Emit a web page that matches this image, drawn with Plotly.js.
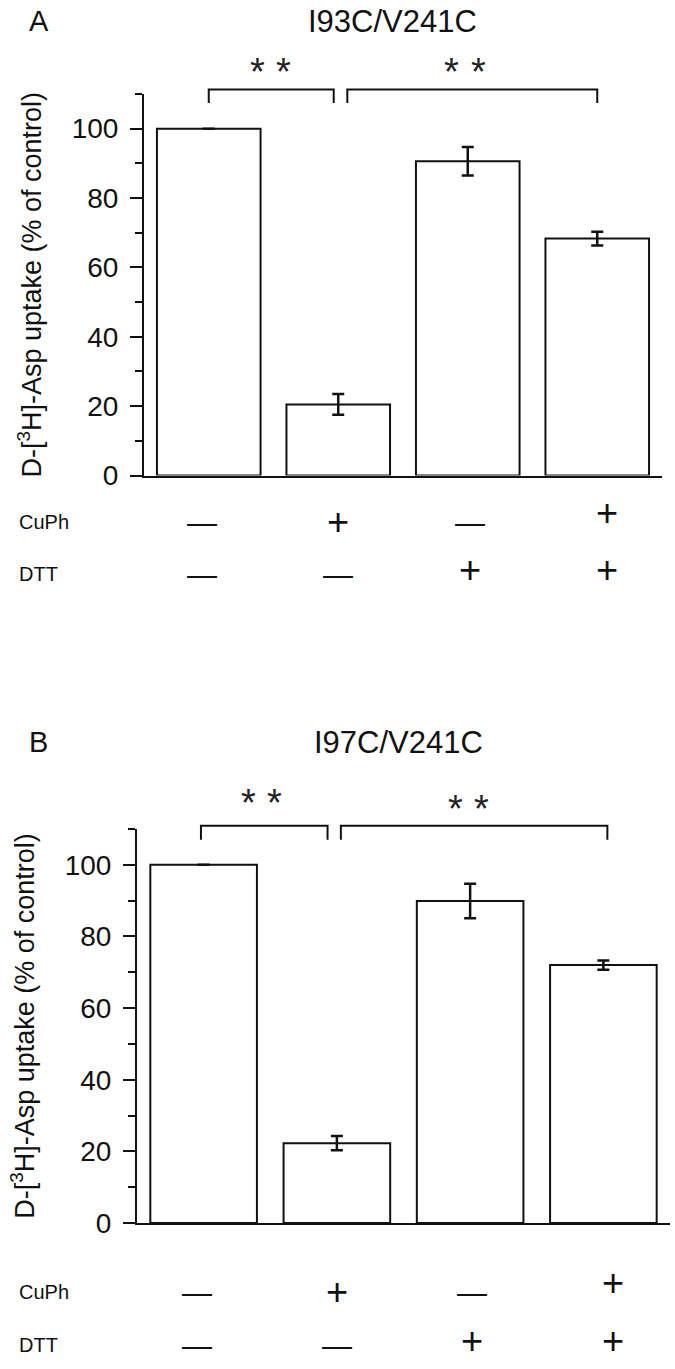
<!DOCTYPE html>
<html>
<head>
<meta charset="utf-8">
<script src="https://cdn.plot.ly/plotly-3.0.1.min.js"></script>
<style>html,body{margin:0;padding:0;background:#fff;}#chart{width:675px;height:1369px;}</style>
</head>
<body>
<div id="chart"></div>
<script>
// ---- data ----
const categories = ['c1', 'c2', 'c3', 'c4'];
const titleA = 'I93C/V241C';
const titleB = 'I97C/V241C';
const valuesA = [100, 20.5, 90.6, 68.3];
const errorsA = [null, 3.0, 4.1, 2.0];
const valuesB = [100, 22.3, 89.9, 72.0];
const errorsB = [null, 2.0, 4.8, 1.3];
const cuphRow = ['\u2014', '+', '\u2014', '+'];
const dttRow = ['\u2014', '\u2014', '+', '+'];
const rowLabels = ['CuPh', 'DTT'];
const yTicks = [0, 20, 40, 60, 80, 100];
const yTitle = 'D-[<sup>3</sup>H]-Asp uptake (% of control)';
const sigMark = '*';

// ---- layout helpers ----
const W = 675, H = 1369;
const FONT = 'Liberation Sans, Arial, Helvetica, sans-serif';
const px = x => x / W;
const py = y => 1 - y / H;
const xIdx = categories.map((c, i) => i);

function barTrace(vals, errs, xa, ya) {
  return {
    type: 'bar', x: xIdx, y: vals, xaxis: xa, yaxis: ya, width: 0.8,
    marker: {color: '#ffffff', line: {color: '#111', width: 2}},
    error_y: {type: 'data', array: errs, visible: true, color: '#111', thickness: 2.5, width: 6},
    showlegend: false, hoverinfo: 'skip'
  };
}

function yAxis(domain, anchor) {
  return {
    domain: domain, anchor: anchor, range: [0, 110], fixedrange: true,
    showline: true, linecolor: '#111', linewidth: 2, mirror: false,
    showgrid: false, zeroline: false,
    tickmode: 'array', tickvals: yTicks, ticktext: yTicks.map(String),
    ticks: 'outside', ticklen: 12, tickwidth: 2, tickcolor: '#111',
    minor: {dtick: 10, tick0: 0, ticks: 'outside', ticklen: 7, tickwidth: 2, tickcolor: '#111', showgrid: false},
    tickfont: {family: FONT, size: 28, color: '#111'},
    ticklabelstandoff: 6,
    title: {text: yTitle, font: {family: FONT, size: 27, color: '#111'}, standoff: 22}
  };
}

function xAxis(domain, anchor) {
  return {
    domain: domain, anchor: anchor, range: [-0.5, 3.5], fixedrange: true,
    showline: true, linecolor: '#111', linewidth: 2,
    showgrid: false, zeroline: false, showticklabels: false, ticks: ''
  };
}

const annotations = [];
const shapes = [];

function addPanel(opts) {
  const {xa, ya, letter, title, titleY, letterX, bracketTop, bracketDrop, brackets, stars, rowY, symXShift} = opts;
  annotations.push({xref: 'paper', yref: 'paper', x: px(letterX), y: py(titleY), text: letter,
    showarrow: false, xanchor: 'center', yanchor: 'middle', font: {family: FONT, size: 29, color: '#111'}});
  annotations.push({xref: 'paper', yref: 'paper', x: px(opts.titleX), y: py(titleY), text: title,
    showarrow: false, xanchor: 'center', yanchor: 'middle', font: {family: FONT, size: 31, color: '#111'}});
  // significance brackets (domain coords)
  const xd = v => (v + 0.5) / 4;
  const yd = v => v / 110;
  brackets.forEach(b => {
    shapes.push({type: 'path', xref: xa + ' domain', yref: ya + ' domain',
      path: 'M ' + xd(b[0]) + ' ' + yd(bracketDrop) + ' L ' + xd(b[0]) + ' ' + yd(bracketTop) +
            ' L ' + xd(b[1]) + ' ' + yd(bracketTop) + ' L ' + xd(b[1]) + ' ' + yd(bracketDrop),
      line: {color: '#111', width: 2}});
  });
  stars.forEach(s => {
    annotations.push({xref: 'paper', yref: 'paper', x: px(s[0]), y: py(s[1]), text: sigMark,
      showarrow: false, xanchor: 'center', yanchor: 'middle', font: {family: FONT, size: 38, color: '#222'}});
  });
  // condition rows
  [cuphRow, dttRow].forEach((row, r) => {
    annotations.push({xref: 'paper', yref: 'paper', x: px(17), y: py(rowY[r]), text: rowLabels[r],
      showarrow: false, xanchor: 'left', yanchor: 'middle', font: {family: FONT, size: 20, color: '#111'}});
    row.forEach((sym, i) => {
      const isPlus = sym === '+';
      annotations.push({xref: xa, yref: 'paper', x: i, y: py(rowY[r]), text: sym,
        xshift: symXShift[i], yshift: (r === 0 && i === 3) ? 9 : (isPlus && r === 1 ? 4 : 0),
        showarrow: false, xanchor: 'center', yanchor: 'middle',
        font: {family: FONT, size: isPlus ? 38 : 30, color: '#111'}});
    });
  });
}

addPanel({xa: 'x', ya: 'y', letter: 'A', title: titleA, titleX: 392, titleY: 21, letterX: 39,
  bracketTop: 111.3, bracketDrop: 107.4, brackets: [[0, 0.965], [1.07, 3.0]],
  stars: [[257, 72], [283, 72], [452, 72], [478, 72]],
  rowY: [522, 574], symXShift: [-7, 0, 2, 10]});
addPanel({xa: 'x2', ya: 'y2', letter: 'B', title: titleB, titleY: 742, titleX: 398, letterX: 38,
  bracketTop: 110.9, bracketDrop: 107, brackets: [[-0.02, 0.93], [1.03, 3.03]],
  stars: [[248, 803], [274, 803], [455, 809], [481, 809]],
  rowY: [1292, 1345], symXShift: [-7, 0, 2, 10]});

const data = [
  barTrace(valuesA, errorsA, 'x', 'y'),
  barTrace(valuesB, errorsB, 'x2', 'y2')
];

const layout = {
  width: W, height: H,
  margin: {l: 0, r: 0, t: 0, b: 0},
  paper_bgcolor: '#fff', plot_bgcolor: 'rgba(0,0,0,0)',
  font: {family: FONT, color: '#111'},
  showlegend: false,
  xaxis: xAxis([144 / W, 662 / W], 'y'),
  yaxis: yAxis([1 - 475.5 / H, 1 - 94 / H], 'x'),
  xaxis2: xAxis([137 / W, 670 / W], 'y2'),
  yaxis2: yAxis([1 - 1223 / H, 1 - 829 / H], 'x2'),
  annotations: annotations,
  shapes: shapes
};

Plotly.newPlot('chart', data, layout, {staticPlot: true, displayModeBar: false});
</script>
</body>
</html>
